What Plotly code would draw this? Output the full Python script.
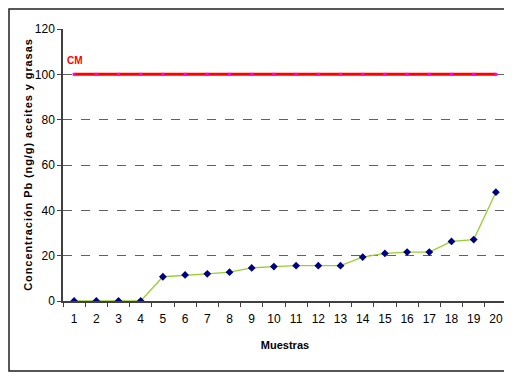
import plotly.graph_objects as go

muestras = [str(i) for i in range(1, 21)]
concentracion = [0, 0, 0, 0, 10.7, 11.5, 12.0, 12.7, 14.6, 15.2, 15.6, 15.6, 15.6,
                 19.4, 21.0, 21.6, 21.6, 26.3, 27.1, 48.0]
cm_values = [100] * 20

OFF = 8  # default page body margin
W, H = 512 - OFF, 372 - OFF
L, R, T, B = 63 - OFF, 5, 29 - OFF, 71
pw, ph = W - L - R, H - T - B

def px(x):  # screen px -> paper
    return (x - OFF - L) / pw

def py(y):
    return (H - B - (y - OFF)) / ph

fig = go.Figure()
fig.add_trace(go.Scatter(
    x=muestras, y=cm_values, mode="lines+markers",
    line=dict(color="#ff0000", width=3),
    marker=dict(symbol="square", color="#ff00ff", size=3),
    showlegend=False, hoverinfo="skip"))
fig.add_trace(go.Scatter(
    x=muestras, y=concentracion, mode="lines+markers",
    line=dict(color="#9acd32", width=1.3),
    marker=dict(symbol="diamond", color="#000080", size=6),
    showlegend=False))

font_ticks = dict(family="Liberation Sans Narrow, Arial Narrow, Liberation Sans, Arial", size=12, color="#000000")
hs = "\u200a"
ytitle = hs.join("Concentración Pb (ng/g) aceites y grasas")

fig.update_layout(
    width=W, height=H,
    margin=dict(l=L, r=R, t=T, b=B, pad=0, autoexpand=False),
    paper_bgcolor="white", plot_bgcolor="white",
    xaxis=dict(type="category", range=[-0.5, 19.5], showgrid=False, automargin=False,
               showline=True, linecolor="#404040", linewidth=1.5, tickangle=0,
               ticks="outside", tickson="boundaries", ticklen=4, tickcolor="#404040",
               tickfont=font_ticks, ticklabelstandoff=6,
               title=dict(text="<b>Muestras</b>", font=dict(family="Liberation Sans, Arial", size=11, color="#000"), standoff=16)),
    yaxis=dict(range=[0, 120], dtick=20, showgrid=True, gridcolor="#606060", automargin=False,
               griddash="dash", gridwidth=1,
               showline=True, linecolor="#404040", linewidth=1.5,
               ticks="outside", ticklen=4, tickcolor="#404040",
               tickfont=font_ticks, zeroline=False,
               title=dict(text="<b>" + ytitle + "</b>",
                          font=dict(family="Liberation Sans, Arial", size=11, color="#000"), standoff=0)),
    annotations=[dict(text="<b>CM</b>", x=px(75), y=py(60), xref="paper", yref="paper",
                      xanchor="center", yanchor="middle",
                      showarrow=False, font=dict(family="Liberation Sans, Arial", size=10, color="#ff0000"))],
    shapes=[
        dict(type="line", xref="paper", yref="paper", x0=1, x1=1, y0=0, y1=1,
             line=dict(color="#c0c0c0", width=2)),
        dict(type="rect", xref="paper", yref="paper", x0=px(9), x1=px(511), y0=py(371), y1=py(9),
             line=dict(color="#202020", width=1.5), layer="below"),
    ],
)

fig.write_html("out.html")
